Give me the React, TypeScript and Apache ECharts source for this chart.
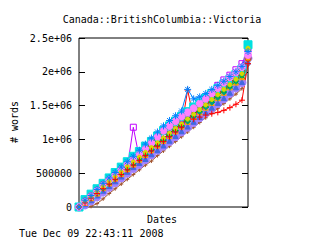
import React, { useEffect, useRef } from "react";
import * as echarts from "echarts";

const titleText = "Canada::BritishColumbia::Victoria";
const yAxisName = "# words";
const xAxisName = "Dates";
const stamp = "Tue Dec 09 22:43:11 2008";

const yTicks = [0, 500000, 1000000, 1500000, 2000000, 2500000];
const yTickLabels = ["0", "500000", "1e+06", "1.5e+06", "2e+06", "2.5e+06"];

// sampling dates (index of snapshot)
const dates = Array.from({ length: 29 }, (_, i) => i);

const sRed = [0, 60000, 130000, 200000, 270000, 340000, 410000, 480000, 550000, 620000, 690000, 760000, 830000, 900000, 970000, 1040000, 1110000, 1180000, 1730000, 1300000, 1330000, 1360000, 1380000, 1400000, 1430000, 1470000, 1520000, 1580000, 2120000];
const sGreen = [0, 70000, 140000, 220000, 300000, 370000, 440000, 510000, 580000, 650000, 720000, 800000, 870000, 940000, 1010000, 1090000, 1160000, 1230000, 1300000, 1370000, 1440000, 1510000, 1580000, 1650000, 1720000, 1790000, 1860000, 1940000, 2280000];
const sBlue = [0, 100000, 170000, 260000, 350000, 430000, 510000, 590000, 670000, 750000, 840000, 930000, 1020000, 1110000, 1200000, 1280000, 1350000, 1420000, 1740000, 1600000, 1630000, 1680000, 1740000, 1800000, 1860000, 1930000, 2000000, 2080000, 2300000];
const sMagenta = [0, 70000, 140000, 210000, 290000, 360000, 440000, 510000, 580000, 1180000, 720000, 790000, 860000, 930000, 1000000, 1080000, 1150000, 1220000, 1300000, 1380000, 1480000, 1580000, 1690000, 1800000, 1880000, 1950000, 2030000, 2120000, 2330000];
const sCyan = [0, 110000, 190000, 270000, 350000, 430000, 510000, 590000, 670000, 750000, 820000, 900000, 970000, 1050000, 1130000, 1200000, 1270000, 1340000, 1410000, 1480000, 1540000, 1610000, 1680000, 1750000, 1820000, 1890000, 1960000, 2040000, 2400000];
const sSienna = [0, 90000, 170000, 250000, 330000, 410000, 480000, 560000, 630000, 700000, 770000, 840000, 910000, 980000, 1060000, 1130000, 1200000, 1270000, 1340000, 1410000, 1480000, 1550000, 1620000, 1700000, 1780000, 1860000, 1930000, 2010000, 2200000];
const sYellow = [0, 80000, 150000, 230000, 300000, 380000, 450000, 520000, 600000, 670000, 740000, 810000, 880000, 950000, 1020000, 1090000, 1160000, 1230000, 1300000, 1370000, 1440000, 1510000, 1590000, 1660000, 1740000, 1810000, 1890000, 1970000, 2350000];
const sRoyal = [0, 40000, 100000, 170000, 240000, 310000, 380000, 450000, 520000, 590000, 650000, 710000, 780000, 840000, 910000, 980000, 1050000, 1120000, 1190000, 1260000, 1330000, 1400000, 1470000, 1540000, 1610000, 1690000, 1770000, 1850000, 2150000];
const sOrange = [0, 60000, 130000, 200000, 280000, 350000, 420000, 490000, 560000, 630000, 700000, 770000, 840000, 910000, 980000, 1050000, 1120000, 1190000, 1260000, 1330000, 1400000, 1470000, 1540000, 1610000, 1690000, 1770000, 1840000, 1920000, 2200000];
const sTeal = [0, 70000, 140000, 210000, 280000, 360000, 430000, 500000, 570000, 640000, 710000, 780000, 850000, 920000, 990000, 1060000, 1130000, 1200000, 1270000, 1340000, 1410000, 1480000, 1550000, 1620000, 1700000, 1780000, 1860000, 1950000, 2250000];
const sLilac = [0, 30000, 90000, 150000, 220000, 290000, 360000, 430000, 500000, 570000, 630000, 700000, 770000, 840000, 900000, 970000, 1040000, 1110000, 1180000, 1250000, 1320000, 1390000, 1460000, 1530000, 1600000, 1680000, 1760000, 1840000, 2200000];
const sPink = [0, 80000, 160000, 240000, 320000, 400000, 470000, 550000, 630000, 700000, 780000, 860000, 950000, 1040000, 1130000, 1200000, 1270000, 1340000, 1400000, 1460000, 1530000, 1600000, 1680000, 1760000, 1840000, 1920000, 1990000, 2070000, 2250000];
const sBrown = [0, 0, 10000, 50000, 120000, 200000, 270000, 340000, 410000, 480000, 550000, 620000, 680000, 760000, 830000, 900000, 970000, 1040000, 1110000, 1180000, 1250000, 1320000, 1390000, 1460000, 1530000, 1600000, 1670000, 1750000, 2100000];

const PLUS = "path://M0,5L10,5M5,0L5,10";
const CROSS = "path://M0,0L10,10M10,0L0,10";
const STAR = "path://M0,5L10,5M5,0L5,10M1.5,1.5L8.5,8.5M8.5,1.5L1.5,8.5";
const SQUARE = "path://M0,0L10,0L10,10L0,10Z";
const CIRCLE_O = "path://M5,0A5,5,0,1,1,4.99,0Z";

type Def = { name: string; data: number[]; color: string; symbol: string; size: number; hollow?: boolean };

const defs: Def[] = [
  { name: "brown", data: sBrown, color: "#a0522d", symbol: PLUS, size: 4 },
  { name: "magenta", data: sMagenta, color: "#c000ff", symbol: SQUARE, size: 6, hollow: true },
  { name: "lilac", data: sLilac, color: "#a080ff", symbol: "circle", size: 8 },
  { name: "royal", data: sRoyal, color: "#4169e1", symbol: "triangle", size: 5 },
  { name: "cyan", data: sCyan, color: "#00e0e0", symbol: "rect", size: 8 },
  { name: "orange", data: sOrange, color: "#ffa000", symbol: "triangle", size: 5 },
  { name: "teal", data: sTeal, color: "#00a080", symbol: "diamond", size: 6 },
  { name: "green", data: sGreen, color: "#00c000", symbol: CROSS, size: 5 },
  { name: "sienna", data: sSienna, color: "#c04000", symbol: CIRCLE_O, size: 6, hollow: true },
  { name: "pink", data: sPink, color: "#ff80ff", symbol: "circle", size: 7 },
  { name: "yellow", data: sYellow, color: "#d8d800", symbol: "circle", size: 4 },
  { name: "red", data: sRed, color: "#ff0000", symbol: PLUS, size: 6 },
  { name: "blue", data: sBlue, color: "#0080ff", symbol: STAR, size: 7 },
];

export default function App() {
  const ref = useRef<HTMLDivElement>(null);
  useEffect(() => {
    if (!ref.current) return;
    const chart = echarts.init(ref.current, undefined, { renderer: "svg" });
    const font = "DejaVu Sans Mono";
    const series = defs.map((d) => ({
      type: "line",
      name: d.name,
      data: d.data.map((v, i) => [dates[i], v]),
      symbol: d.symbol,
      symbolSize: d.size,
      showSymbol: true,
      lineStyle: { color: d.color, width: 1 },
      itemStyle: {
        color: d.hollow ? "rgba(0,0,0,0)" : d.color,
        borderColor: d.color,
        borderWidth: 1,
      },
      emphasis: { disabled: true },
      z: 2,
    }));
    const labelFmt = (v: number) => {
      const i = yTicks.indexOf(v);
      return i >= 0 ? yTickLabels[i] : "";
    };
    chart.setOption({
      animation: false,
      backgroundColor: "#ffffff",
      grid: { left: 79, right: 72, top: 38, bottom: 33, show: true, borderColor: "#000", borderWidth: 1, backgroundColor: "transparent" },
      xAxis: {
        type: "value",
        min: 0,
        max: dates[dates.length - 1],
        axisLine: { show: false },
        axisTick: { show: false },
        axisLabel: { show: false },
        splitLine: { show: false },
      },
      yAxis: [
        {
          type: "value",
          min: 0,
          max: 2500000,
          interval: 500000,
          position: "left",
          axisLine: { show: false },
          axisTick: { show: true, inside: true, length: 6, lineStyle: { color: "#000" } },
          axisLabel: { formatter: labelFmt, fontFamily: font, fontSize: 10, color: "#000", margin: 7 },
          splitLine: { show: false },
        },
        {
          type: "value",
          min: 0,
          max: 2500000,
          interval: 500000,
          position: "right",
          axisLine: { show: false },
          axisTick: { show: true, inside: true, length: 6, lineStyle: { color: "#000" } },
          axisLabel: { show: false },
          splitLine: { show: false },
        },
      ],
      series,
      graphic: [
        { type: "text", x: 162, y: 19, style: { text: titleText, font: `10px "${font}"`, fill: "#000", textAlign: "center", textVerticalAlign: "middle" } },
        { type: "text", x: 14, y: 122, rotation: Math.PI / 2, style: { text: yAxisName, font: `10px "${font}"`, fill: "#000", textAlign: "center", textVerticalAlign: "middle" } },
        { type: "text", x: 162, y: 219, style: { text: xAxisName, font: `10px "${font}"`, fill: "#000", textAlign: "center", textVerticalAlign: "middle" } },
        { type: "text", x: 19, y: 233, style: { text: stamp, font: `10px "${font}"`, fill: "#000", textAlign: "left", textVerticalAlign: "middle" } },
      ],
    });
    return () => chart.dispose();
  }, []);
  return <div ref={ref} style={{ position: "fixed", left: 0, top: 0, width: 320, height: 240 }} />;
}
